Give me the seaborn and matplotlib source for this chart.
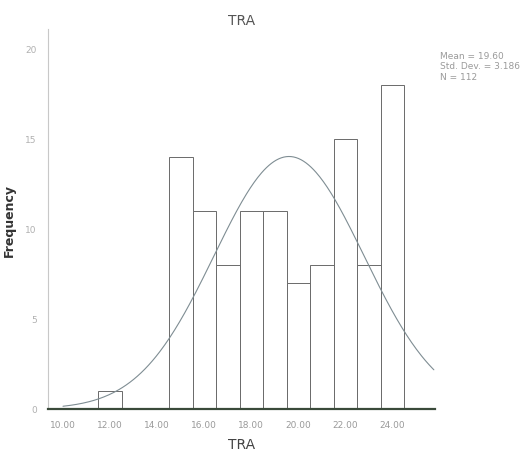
import numpy as np
import pandas as pd
import matplotlib
matplotlib.use("Agg")
import matplotlib.pyplot as plt
import seaborn as sns

# Data (bin centre -> frequency)
tra_values = [12, 15, 16, 17, 18, 19, 20, 21, 22, 23, 24]
frequencies = [1, 14, 11, 8, 11, 11, 7, 8, 15, 8, 18]
x_ticks = [10, 12, 14, 16, 18, 20, 22, 24]
y_ticks = [0, 5, 10, 15, 20]

sns.set_theme(style="white")
plt.rcParams['font.family'] = ['DejaVu Sans']

df = pd.DataFrame({"TRA": tra_values, "count": frequencies})
vals = np.repeat(tra_values, frequencies)
n = len(vals)
mean = vals.mean()
sd = vals.std(ddof=1)

fig = plt.figure(figsize=(5.21, 4.56), dpi=100)
ax = fig.add_axes([0.092, 0.101, 0.743, 0.833])

sns.histplot(data=df, x="TRA", weights="count", discrete=True, ax=ax,
             color="white", edgecolor="#6a6a6a", linewidth=0.7, alpha=1.0)

xs = np.linspace(10.0, 25.75, 300)
pdf = n * 1.0 / (sd * np.sqrt(2 * np.pi)) * np.exp(-0.5 * ((xs - mean) / sd) ** 2)
sns.lineplot(x=xs, y=pdf, ax=ax, color="#7f8d93", linewidth=0.8)

ax.set_xlim(9.36, 25.8)
ax.set_ylim(0, 21.1)
ax.set_xticks(x_ticks)
ax.set_xticklabels([f"{t:.2f}" for t in x_ticks], fontsize=6.5, color="#9a9a9a")
ax.set_yticks(y_ticks)
ax.set_yticklabels([str(t) for t in y_ticks], fontsize=6.5, color="#b0b0b0")
ax.tick_params(axis="both", length=3, width=0.6, color="#888888", direction="out", pad=5)

for s in ["top", "right"]:
    ax.spines[s].set_visible(False)
ax.spines["left"].set_color("#c8c8c8")
ax.spines["left"].set_linewidth(0.8)
ax.spines["bottom"].set_color("#3a4a3a")
ax.spines["bottom"].set_linewidth(1.6)

ax.set_xlabel("TRA", fontsize=10, color="#444444", labelpad=6)
ax.set_ylabel("Frequency", fontsize=9, color="#333333", fontweight="bold")
ax.yaxis.set_label_coords(-0.082, 0.5)
ax.set_title("TRA", fontsize=10, color="#555555", pad=4)

fig.text(0.845, 0.885,
         f"Mean = {mean:.2f}\nStd. Dev. = {sd:.3f}\nN = {n}",
         fontsize=6.5, color="#9a9a9a", va="top", ha="left", linespacing=1.15)

fig.savefig("out.png", dpi=100, facecolor="white")
